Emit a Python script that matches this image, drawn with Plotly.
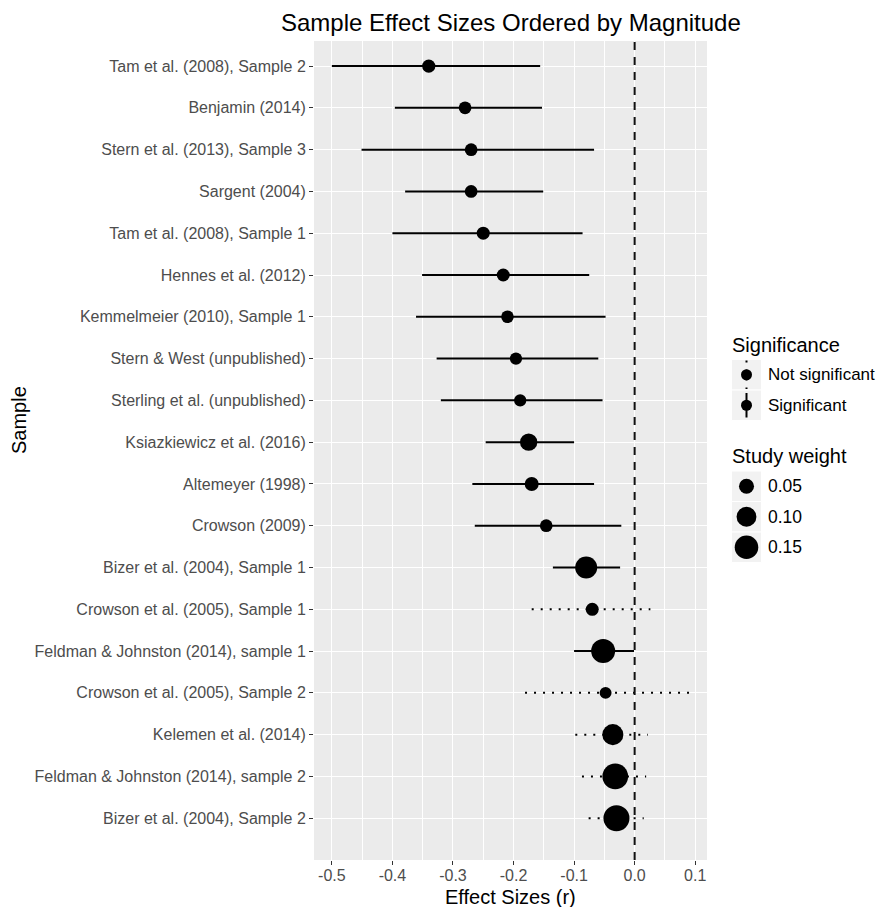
import numpy as np
import plotly.graph_objects as go

# ---------------- data (top row first) ----------------
samples = [
    "Tam et al. (2008), Sample 2",
    "Benjamin (2014)",
    "Stern et al. (2013), Sample 3",
    "Sargent (2004)",
    "Tam et al. (2008), Sample 1",
    "Hennes et al. (2012)",
    "Kemmelmeier (2010), Sample 1",
    "Stern & West (unpublished)",
    "Sterling et al. (unpublished)",
    "Ksiazkiewicz et al. (2016)",
    "Altemeyer (1998)",
    "Crowson (2009)",
    "Bizer et al. (2004), Sample 1",
    "Crowson et al. (2005), Sample 1",
    "Feldman & Johnston (2014), sample 1",
    "Crowson et al. (2005), Sample 2",
    "Kelemen et al. (2014)",
    "Feldman & Johnston (2014), sample 2",
    "Bizer et al. (2004), Sample 2",
]
effect = [-0.340, -0.280, -0.270, -0.270, -0.250, -0.217, -0.210, -0.196, -0.189,
          -0.175, -0.170, -0.146, -0.080, -0.070, -0.052, -0.048, -0.036, -0.032, -0.030]
ci_low = [-0.500, -0.396, -0.451, -0.379, -0.400, -0.351, -0.361, -0.327, -0.320,
          -0.246, -0.268, -0.264, -0.135, -0.170, -0.100, -0.181, -0.098, -0.087, -0.076]
ci_high = [-0.156, -0.153, -0.067, -0.151, -0.086, -0.075, -0.048, -0.060, -0.053,
           -0.100, -0.067, -0.022, -0.024, 0.026, -0.001, 0.090, 0.022, 0.019, 0.015]
significant = [True, True, True, True, True, True, True, True, True,
               True, True, True, True, False, True, False, False, False, False]
weight = [0.036, 0.032, 0.032, 0.032, 0.034, 0.034, 0.031, 0.029, 0.029,
          0.072, 0.042, 0.032, 0.128, 0.034, 0.157, 0.027, 0.115, 0.184, 0.189]
size_breaks = [0.05, 0.10, 0.15]
size_labels = ["0.05", "0.10", "0.15"]
sig_labels = ["Not significant", "Significant"]
x_ticks = [-0.5, -0.4, -0.3, -0.2, -0.1, 0.0, 0.1]
x_ticklabels = ["-0.5", "-0.4", "-0.3", "-0.2", "-0.1", "0.0", "0.1"]
ref_value = 0.0

# ---------------- styling helpers ----------------
OFF = 8  # page body margin offset
W, H = 884 - OFF, 907 - OFF
FONT = "Liberation Sans, Arial, Helvetica, sans-serif"
DOT = "2px,7px"


def px_x(x):
    return (x - OFF) / W


def px_y(y):
    return 1 - (y - OFF) / H


def diam(w):
    return 3.4 + 52 * np.sqrt(np.asarray(w, dtype=float))


n = len(samples)
ypos = [n - 1 - i for i in range(n)]

fig = go.Figure()

# error bars
for sig_flag, dash in [(True, "solid"), (False, DOT)]:
    xs, ys = [], []
    for i in range(n):
        if significant[i] == sig_flag:
            xs += [ci_low[i], ci_high[i], None]
            ys += [ypos[i], ypos[i], None]
    fig.add_trace(go.Scatter(x=xs, y=ys, mode="lines",
                             line=dict(color="black", width=2, dash=dash),
                             hoverinfo="skip", showlegend=False))

# points
fig.add_trace(go.Scatter(x=effect, y=ypos, mode="markers",
                         marker=dict(color="black", opacity=1, size=diam(weight).tolist(),
                                     line=dict(width=0)),
                         text=samples, showlegend=False))

# ---------------- manual legend (pixel-space axes) ----------------
kx0, kx1 = 731.5, 761.5
kcx = (kx0 + kx1) / 2
sig_boxes = [(359.5, 390.0), (390.0, 420.5)]
wt_boxes = [(471.0, 501.5), (501.5, 532.0), (532.0, 562.5)]

shapes = []
PL, PR, PT, PB = 314, 707, 41, 860
# panel background
shapes.append(dict(type="rect", xref="x domain", yref="y domain", x0=0, x1=1, y0=0, y1=1,
                   fillcolor="#EBEBEB", line=dict(width=0), layer="below"))
for (a, b) in sig_boxes + wt_boxes:
    shapes.append(dict(type="rect", xref="x2", yref="y2", x0=kx0, x1=kx1, y0=a, y1=b,
                       fillcolor="#F2F2F2", line=dict(color="white", width=1), layer="below"))

# significance keys
(a0, b0), (a1, b1) = sig_boxes
fig.add_trace(go.Scatter(x=[kcx, kcx], y=[a0 + 1, b0 - 1], xaxis="x2", yaxis="y2", mode="lines",
                         line=dict(color="black", width=2, dash=DOT), hoverinfo="skip", showlegend=False))
fig.add_trace(go.Scatter(x=[kcx, kcx], y=[a1 + 3, b1 - 3], xaxis="x2", yaxis="y2", mode="lines",
                         line=dict(color="black", width=2), hoverinfo="skip", showlegend=False))
fig.add_trace(go.Scatter(x=[kcx, kcx], y=[(a0 + b0) / 2, (a1 + b1) / 2], xaxis="x2", yaxis="y2",
                         mode="markers", marker=dict(color="black", opacity=1, size=11),
                         hoverinfo="skip", showlegend=False))
# weight keys
fig.add_trace(go.Scatter(x=[kcx] * 3, y=[(a + b) / 2 for a, b in wt_boxes], xaxis="x2", yaxis="y2",
                         mode="markers",
                         marker=dict(color="black", opacity=1, size=diam(size_breaks).tolist(),
                                     line=dict(width=0)),
                         hoverinfo="skip", showlegend=False))

annotations = []
for lab, (a, b) in zip(sig_labels, sig_boxes):
    annotations.append(dict(xref="x2", yref="y2", x=766, y=(a + b) / 2, text=lab,
                            xanchor="left", yanchor="middle", showarrow=False,
                            font=dict(family=FONT, size=17, color="black")))
for lab, (a, b) in zip(size_labels, wt_boxes):
    annotations.append(dict(xref="x2", yref="y2", x=766, y=(a + b) / 2, text=lab,
                            xanchor="left", yanchor="middle", showarrow=False,
                            font=dict(family=FONT, size=17.5, color="black")))
annotations.append(dict(xref="x2", yref="y2", x=730, y=345, text="Significance",
                        xanchor="left", yanchor="middle", showarrow=False,
                        font=dict(family=FONT, size=20, color="black")))
annotations.append(dict(xref="x2", yref="y2", x=730, y=456, text="Study weight",
                        xanchor="left", yanchor="middle", showarrow=False,
                        font=dict(family=FONT, size=20, color="black")))

# titles
annotations.append(dict(xref="paper", yref="paper", x=px_x((PL + PR) / 2), y=px_y(23),
                        text="Sample Effect Sizes Ordered by Magnitude", showarrow=False,
                        xanchor="center", yanchor="middle",
                        font=dict(family=FONT, size=24, color="black")))
annotations.append(dict(xref="paper", yref="paper", x=px_x((PL + PR) / 2), y=px_y(897),
                        text="Effect Sizes (r)", showarrow=False,
                        xanchor="center", yanchor="middle",
                        font=dict(family=FONT, size=20, color="black")))
annotations.append(dict(xref="paper", yref="paper", x=px_x(19), y=px_y(420),
                        text="Sample", showarrow=False, textangle=-90,
                        xanchor="center", yanchor="middle",
                        font=dict(family=FONT, size=20, color="black")))

# zero reference line
shapes.append(dict(type="line", xref="x", yref="y domain", x0=ref_value, x1=ref_value, y0=0, y1=1,
                   line=dict(color="#111111", width=2, dash="8px,7px"), layer="above"))

fig.update_layout(
    width=W, height=H,
    margin=dict(l=0, r=0, t=0, b=0),
    paper_bgcolor="white",
    plot_bgcolor="rgba(0,0,0,0)",
    font=dict(family=FONT),
    showlegend=False,
    shapes=shapes,
    annotations=annotations,
    xaxis=dict(domain=[px_x(PL), px_x(PR)], range=[-0.5295, 0.1195],
               tickvals=x_ticks, ticktext=x_ticklabels,
               ticks="outside", ticklen=4, tickwidth=1.3, tickcolor="#333333",
               ticklabelstandoff=-3,
               tickfont=dict(family=FONT, size=16, color="#4D4D4D"),
               showgrid=True, gridcolor="white", gridwidth=1.4,
               minor=dict(dtick=0.05, tick0=0, showgrid=True, gridcolor="white", gridwidth=0.7, ticks=""),
               zeroline=False, showline=False, anchor="y", fixedrange=True),
    yaxis=dict(domain=[px_y(PB), px_y(PT)], range=[-1.0, n - 1 + 0.6],
               tickvals=ypos, ticktext=samples,
               ticks="outside", ticklen=4, tickwidth=1.3, tickcolor="#333333",
               tickfont=dict(family=FONT, size=16, color="#4D4D4D"),
               showgrid=True, gridcolor="white", gridwidth=1.4,
               zeroline=False, showline=False, anchor="x", fixedrange=True),
    xaxis2=dict(domain=[px_x(700), 1.0], range=[700, 884], visible=False,
                anchor="y2", fixedrange=True),
    yaxis2=dict(domain=[px_y(580), px_y(330)], range=[580, 330], visible=False,
                anchor="x2", fixedrange=True),
)

fig.write_html("out.html")
